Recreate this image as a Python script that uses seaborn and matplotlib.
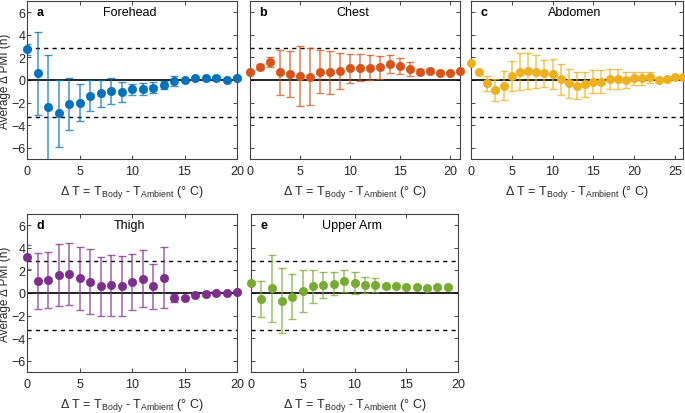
import numpy as np
import pandas as pd
import matplotlib
matplotlib.use("Agg")
import matplotlib.pyplot as plt
import seaborn as sns

# =========================================================
# DATA
# =========================================================

forehead_mean = [2.73, 0.59, -2.43, -2.96, -2.16, -2.0, -1.39, -1.18, -0.95, -1.04, -0.83,
                 -0.8, -0.68, -0.44, -0.09, 0.0, 0.15, 0.15, 0.2, 0.0, 0.2]
forehead_err = [0.5, 3.7, 4.65, 3.0, 2.3, 1.67, 1.4, 1.2, 1.15, 0.9, 0.5,
                0.5, 0.5, 0.35, 0.45, 0.1, 0.1, 0.15, 0.15, 0.1, 0.1]

chest_mean = [0.68, 1.19, 1.63, 0.68, 0.53, 0.36, 0.3, 0.74, 0.68, 0.83, 1.04,
              1.1, 1.1, 1.13, 1.39, 1.24, 0.98, 0.74, 0.8, 0.65, 0.65, 0.83]
chest_err = [0.1, 0.2, 0.45, 2.0, 2.05, 2.67, 2.55, 1.93, 1.88, 1.6, 1.3,
             1.18, 1.1, 1.0, 0.8, 0.7, 0.6, 0.25, 0.2, 0.15, 0.1, 0.1]

abdomen_mean = [1.48, 0.68, -0.3, -0.89, -0.5, 0.36, 0.74, 0.8, 0.74, 0.59, 0.53,
                0.06, -0.3, -0.5, -0.39, -0.15, -0.15, 0.09, 0.09, 0.0, 0.15,
                0.15, 0.24, 0.0, 0.09, 0.24, 0.24]
abdomen_err = [0.1, 0.1, 0.65, 0.98, 1.26, 1.36, 1.63, 1.63, 1.48, 1.2, 1.3,
               1.4, 1.26, 1.2, 1.1, 1.0, 1.0, 0.85, 0.85, 0.74, 0.6,
               0.6, 0.5, 0.1, 0.1, 0.1, 0.1]

thigh_mean = [3.19, 1.07, 1.16, 1.57, 1.65, 1.3, 1.01, 0.58, 0.7, 0.64, 1.01,
              1.28, 0.58, 1.36, -0.46, -0.46, -0.17, -0.09, -0.03, 0.03, 0.06]
thigh_err = [1.1, 2.5, 2.5, 2.75, 2.75, 2.78, 2.9, 2.6, 2.7, 2.65, 2.48,
             2.5, 2.0, 2.7, 0.35, 0.1, 0.1, 0.1, 0.1, 0.1, 0.1]

upperarm_mean = [0.93, -0.52, 0.41, -0.67, -0.32, 0.2, 0.58, 0.7, 0.84, 1.04, 0.87,
                 0.7, 0.72, 0.58, 0.58, 0.55, 0.55, 0.43, 0.55, 0.55]
upperarm_err = [0.1, 1.6, 2.97, 2.9, 1.96, 1.88, 1.46, 1.17, 1.06, 0.99, 0.97,
                0.72, 0.6, 0.1, 0.1, 0.1, 0.1, 0.1, 0.1, 0.1]

upper_limit = 2.8
lower_limit = -3.25

panels = [
    ("a", "Forehead", forehead_mean, forehead_err, "#0072BD", 20, [27, 237, 2, 160]),
    ("b", "Chest", chest_mean, chest_err, "#D95319", 21, [250, 460, 2, 160]),
    ("c", "Abdomen", abdomen_mean, abdomen_err, "#EDB120", 26, [471, 683, 2, 160]),
    ("d", "Thigh", thigh_mean, thigh_err, "#7E2F8E", 20, [27, 237, 215, 373]),
    ("e", "Upper Arm", upperarm_mean, upperarm_err, "#77AC30", 20, [251, 458, 215, 373]),
]

# =========================================================
# STYLE
# =========================================================

sns.set_theme(style="ticks")
plt.rcParams["font.family"] = ["Liberation Sans", "DejaVu Sans"]
plt.rcParams["mathtext.default"] = "regular"
plt.rcParams["xtick.direction"] = "in"
plt.rcParams["ytick.direction"] = "in"
plt.rcParams["xtick.top"] = True
plt.rcParams["ytick.right"] = True

W, H = 685, 414
fig = plt.figure(figsize=(W / 100, H / 100), dpi=100)

text_col = "#262626"
xlabel = "Δ T = T$_{Body}$ - T$_{Ambient}$ (° C)"

for letter, name, mean, err, color, xmax, (x0, x1, y0, y1) in panels:
    ax = fig.add_axes([x0 / W, 1 - y1 / H, (x1 - x0) / W, (y1 - y0) / H])

    df = pd.DataFrame({"dT": np.arange(len(mean)), "mean": mean, "err": err})

    ax.axhline(0, color="black", lw=1.2, zorder=1)
    ax.axhline(upper_limit, color="black", lw=1.0, ls=(0, (3, 3)), zorder=1)
    ax.axhline(lower_limit, color="black", lw=1.0, ls=(0, (3, 3)), zorder=1)

    ax.errorbar(df["dT"], df["mean"], yerr=df["err"], fmt="none", ecolor=color,
                alpha=0.75, elinewidth=1.1, capsize=2.6, capthick=1.0, zorder=2)
    sns.scatterplot(data=df, x="dT", y="mean", ax=ax, color=color, s=36,
                    edgecolor=color, linewidth=0.5, zorder=3, clip_on=False)

    ax.set_xlim(0, xmax)
    ax.set_ylim(-7, 7)
    ax.set_xticks(np.arange(0, xmax + 1, 5))
    ax.set_yticks(np.arange(-6, 7, 2))
    ax.tick_params(labelsize=9, colors=text_col, length=3, width=0.6)
    ax.tick_params(axis="y", pad=1)
    ax.tick_params(axis="x", pad=4)
    for sp in ax.spines.values():
        sp.set_color("#404040")
        sp.set_linewidth(0.8)

    ax.set_xlabel(xlabel, fontsize=9, color=text_col, labelpad=5)
    if letter in ("a", "d"):
        ax.set_ylabel("Average Δ PMI (h)", fontsize=8.5, color=text_col)
        ax.yaxis.set_label_coords(-0.076, 0.5)
    else:
        ax.set_ylabel("")
        ax.set_yticklabels([])

    ax.text(0.045, 0.93, letter, transform=ax.transAxes, fontsize=9,
            fontweight="bold", ha="left", va="center", color="black")
    ax.text(0.49, 0.93, name, transform=ax.transAxes, fontsize=9,
            ha="center", va="center", color="black")

fig.savefig("out.png", dpi=100)
